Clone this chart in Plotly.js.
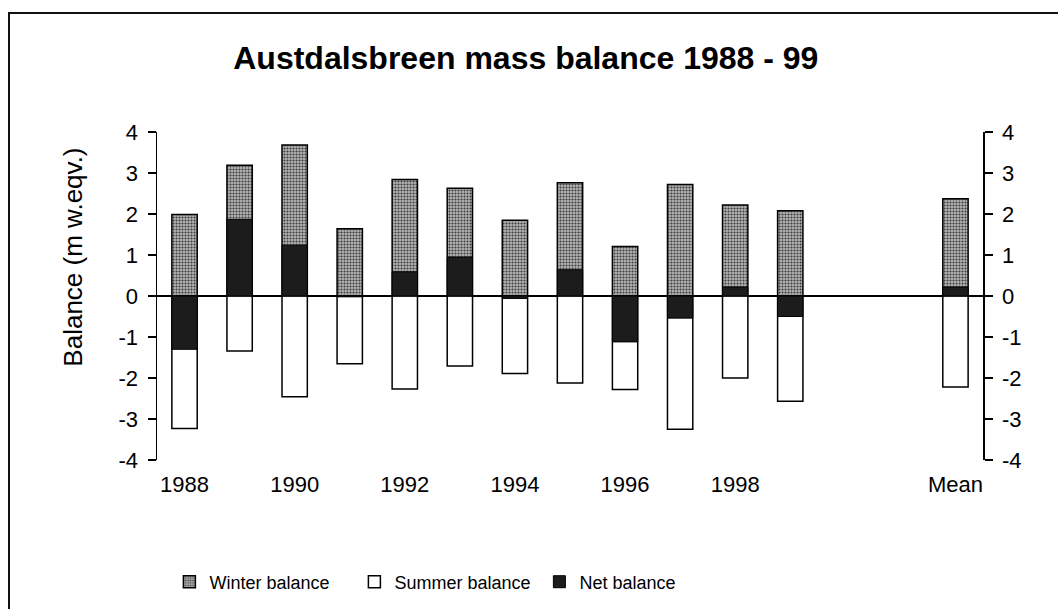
<!DOCTYPE html>
<html>
<head>
<meta charset="utf-8">
<script src="https://cdn.plot.ly/plotly-3.0.1.min.js"></script>
<style>
  html, body { margin: 0; padding: 0; background: #ffffff; }
  #wrap { position: relative; width: 1058px; height: 609px; overflow: hidden; }
  #chart { width: 1058px; height: 609px; }
  #frame { position: absolute; left: 8px; top: 12px; width: 1200px; height: 800px;
           border-left: 2px solid #111; border-top: 2px solid #111; pointer-events: none; }
</style>
</head>
<body>
<div id="wrap">
  <div id="chart"></div>
  <div id="frame"></div>
</div>
<script>
// Categories (two empty slots between 1999 and Mean, as in the original)
const categories = ['1988','1989','1990','1991','1992','1993','1994','1995','1996','1997','1998','1999','Mean'];
const categoryOrder = ['1988','1989','1990','1991','1992','1993','1994','1995','1996','1997','1998','1999','gap1','gap2','Mean'];
const xTickLabels = ['1988','1990','1992','1994','1996','1998','Mean'];

// Y tick values and labels (hyphen minus as in the original)
const yTickValues = [-4, -3, -2, -1, 0, 1, 2, 3, 4];
const yTickLabels = ['-4', '-3', '-2', '-1', '0', '1', '2', '3', '4'];

// Balance values (m w.eq.)
const winterBalance = [1.99, 3.19, 3.68, 1.64, 2.84, 2.63, 1.85, 2.76, 1.21, 2.72, 2.22, 2.08, 2.37];
const summerBalance = [-3.23, -1.34, -2.46, -1.65, -2.27, -1.71, -1.89, -2.12, -2.28, -3.25, -2.00, -2.57, -2.22];
const netBalance    = [-1.30, 1.87, 1.24, -0.02, 0.59, 0.95, -0.06, 0.64, -1.12, -0.54, 0.22, -0.50, 0.22];

const FONT = 'Liberation Sans, Arial, sans-serif';

const traces = [
  {
    type: 'bar', name: 'Winter balance', x: categories, y: winterBalance,
    marker: {
      color: '#a8a8a8',
      pattern: { shape: '.', fgcolor: '#3c3c3c', bgcolor: '#b4b4b4', size: 3, solidity: 0.4 },
      line: { color: '#000', width: 1.5 }
    },
    hoverinfo: 'x+y+name'
  },
  {
    type: 'bar', name: 'Summer balance', x: categories, y: summerBalance,
    marker: { color: '#ffffff', line: { color: '#000', width: 1.5 } },
    hoverinfo: 'x+y+name'
  },
  {
    type: 'bar', name: 'Net balance', x: categories, y: netBalance, yaxis: 'y2',
    marker: { color: '#1c1c1c', line: { color: '#000', width: 1 } },
    hoverinfo: 'x+y+name'
  }
];

const yCommon = {
  range: [-4, 4], tickmode: 'array', tickvals: yTickValues, ticktext: yTickLabels,
  showline: true, linecolor: '#000', linewidth: 1.5,
  ticks: 'outside', ticklen: 8, tickwidth: 1.5, tickcolor: '#000',
  showgrid: false, tickfont: { size: 22 }, fixedrange: true, ticklabelstandoff: 5,
  automargin: false
};

const layout = {
  width: 1058, height: 609,
  margin: { l: 157, r: 75, t: 132, b: 149, autoexpand: false },
  paper_bgcolor: 'rgba(0,0,0,0)', plot_bgcolor: 'rgba(0,0,0,0)',
  font: { family: FONT, color: '#000', size: 22 },
  barmode: 'overlay', bargap: 0.54,
  showlegend: true,
  title: {
    text: 'Austdalsbreen mass balance 1988 - 99',
    font: { family: FONT, size: 32, color: '#000', weight: 'bold' },
    xref: 'container', x: 0.497, xanchor: 'center',
    yref: 'container', y: 0.905, yanchor: 'middle'
  },
  xaxis: {
    type: 'category', categoryorder: 'array', categoryarray: categoryOrder,
    range: [-0.5, categoryOrder.length - 0.5],
    tickmode: 'array', tickvals: xTickLabels, ticktext: xTickLabels,
    showline: false, showgrid: false, zeroline: false, ticks: '',
    tickfont: { size: 22 }, fixedrange: true, ticklabelstandoff: 9, automargin: false
  },
  yaxis: Object.assign({}, yCommon, {
    zeroline: true, zerolinecolor: '#000', zerolinewidth: 2
  }),
  yaxis2: Object.assign({}, yCommon, {
    overlaying: 'y', side: 'right', zeroline: false
  }),
  annotations: [{
    text: 'Balance (m w.eqv.)', textangle: -90,
    xref: 'paper', yref: 'paper', x: -0.1017, y: 0.62,
    xanchor: 'center', yanchor: 'middle', showarrow: false,
    font: { family: FONT, size: 26, color: '#000' }
  }],
  legend: {
    orientation: 'h', x: 0.015, xanchor: 'left', y: -0.372, yanchor: 'middle',
    entrywidth: 140, entrywidthmode: 'pixels',
    font: { family: FONT, size: 18, color: '#000' },
    bgcolor: 'rgba(0,0,0,0)', traceorder: 'normal'
  }
};

Plotly.newPlot('chart', traces, layout, { displayModeBar: false, staticPlot: true });
</script>
</body>
</html>
